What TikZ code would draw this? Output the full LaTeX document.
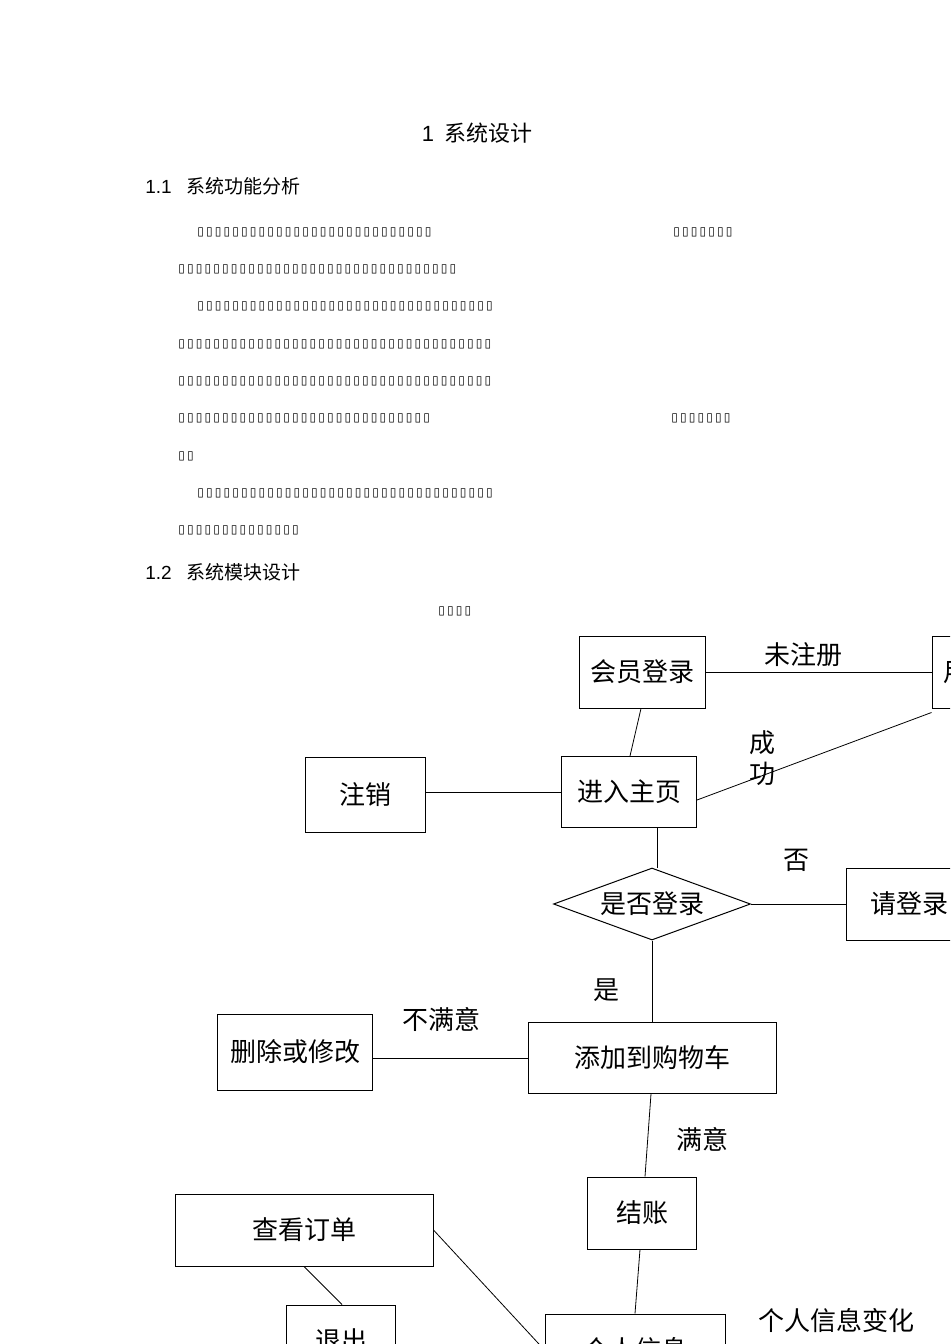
\documentclass[tikz,border=0pt]{standalone}
\usepackage{fontspec}
\setmainfont{Liberation Sans}
\newfontfamily\cjk{Noto Sans CJK SC}
\newfontfamily\djvu{DejaVu Sans}
\usetikzlibrary{shapes.geometric}
\newcommand\bxs[1]{\foreach \i in {1,...,#1}{\makebox[4.375pt]{\djvu\fontsize{6}{6}\selectfont ▯}}}
\begin{document}
\begin{tikzpicture}[x=0.5pt,y=-0.5pt,
 box/.style={draw,line width=0.5pt,inner sep=0,font=\cjk\fontsize{13}{13}\selectfont},
 lbl/.style={font=\cjk\fontsize{13}{13}\selectfont,inner sep=0},
 bl/.style={anchor=west,inner sep=0},
 ln/.style={line width=0.4pt}]
\useasboundingbox (0,0) rectangle (950,1344);
\clip (0,0) rectangle (950,1344);
\node (t1) at (477,133) {\fontsize{11}{11}\selectfont 1\hspace{0.45em}{\cjk 系统设计}};
\node[bl] (t2) at (145,186) {\fontsize{9.5}{9.5}\selectfont 1.1\hspace{0.75em}{\cjk 系统功能分析}};
\node[bl] (t3) at (145,572) {\fontsize{9.5}{9.5}\selectfont 1.2\hspace{0.75em}{\cjk 系统模块设计}};
\node[bl] (p1) at (196,232) {\bxs{27}};
\node[bl] (p1b) at (672,232) {\bxs{7}};
\node[bl] (p2) at (177,269) {\bxs{32}};
\node[bl] (p3) at (196,306) {\bxs{34}};
\node[bl] (p4) at (177,344) {\bxs{36}};
\node[bl] (p5) at (177,381) {\bxs{36}};
\node[bl] (p6) at (177,418) {\bxs{29}};
\node[bl] (p6b) at (670,418) {\bxs{7}};
\node[bl] (p7) at (177,456) {\bxs{2}};
\node[bl] (p8) at (196,493) {\bxs{34}};
\node[bl] (p9) at (177,530) {\bxs{14}};
\node[bl] (cap) at (437,611) {\bxs{4}};

\node[box,minimum width=63pt,minimum height=36pt] (login) at (642,672) {会员登录};
\node[box,minimum width=63pt,minimum height=36pt] (reg) at (995,672) {用户注册};
\node[box,minimum width=60pt,minimum height=37.5pt] (logout) at (365,795) {注销};
\node[box,minimum width=67.5pt,minimum height=35.5pt] (home) at (629,792) {进入主页};
\node[box,diamond,aspect=2.7,minimum width=98.5pt,minimum height=36pt] (chk) at (652,904) {是否登录};
\node[box,minimum width=63pt,minimum height=36pt] (plz) at (909,904) {请登录};
\node[box,minimum width=124pt,minimum height=35.5pt] (cart) at (652,1058) {添加到购物车};
\node[box,minimum width=77.5pt,minimum height=38pt] (edit) at (295,1052) {删除或修改};
\node[box,minimum width=54.5pt,minimum height=36pt] (pay) at (642,1213) {结账};
\node[box,minimum width=129pt,minimum height=36pt] (order) at (304,1230) {查看订单};
\node[box,minimum width=54.5pt,minimum height=36pt] (quit) at (341,1341) {退出};
\node[box,minimum width=90pt,minimum height=36pt] (info) at (635,1350) {个人信息};

\node[lbl] (l1) at (803,655) {未注册};
\node[lbl] (l2) at (762,743) {成};
\node[lbl] (l3) at (762,774) {功};
\node[lbl] (l4) at (796,860) {否};
\node[lbl] (l5) at (606,990) {是};
\node[lbl] (l6) at (441,1019) {不满意};
\node[lbl] (l7) at (702,1139) {满意};
\node[lbl] (l8) at (836,1321) {个人信息变化};

\draw[ln] (login) -- (reg);
\draw[ln] ([xshift=-0.5pt]login.south) -- ([xshift=0.5pt]home.north);
\draw[ln] ([yshift=-4pt]home.east) -- ([yshift=-2pt]reg.south west);
\draw[ln] (logout.east |- home) -- (home.west);
\draw[ln] ([xshift=14pt]home.south) -- ([xshift=2.5pt]chk.north);
\draw[ln] (chk.east) -- (plz.west);
\draw[ln] (chk.south) -- (cart.north);
\draw[ln] (cart.west) -- (edit.east |- cart.west);
\draw[ln] ([xshift=-0.5pt]cart.south) -- ([xshift=1.5pt]pay.north);
\draw[ln] ([xshift=-1pt]pay.south) -- (info.north);
\draw[ln] (order.east) -- (info.west);
\draw[ln] (order.south) -- ([xshift=0.5pt]quit.north);
\end{tikzpicture}
\end{document}
